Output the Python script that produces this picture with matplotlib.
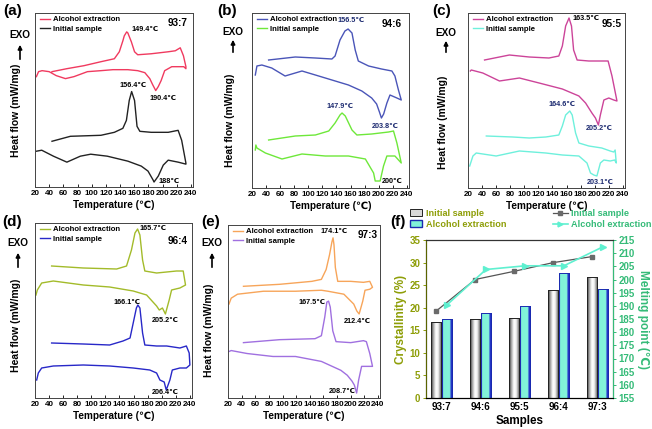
import numpy as np
import matplotlib
matplotlib.use('Agg')
import matplotlib.pyplot as plt
from matplotlib.patches import FancyArrowPatch, Patch
from matplotlib.lines import Line2D
from matplotlib.colors import LinearSegmentedColormap

plt.rcParams['font.family'] = ['Liberation Sans', 'DejaVu Sans']
plt.rcParams['font.weight'] = 'bold'

# ---- DSC curves (heat flow in arbitrary units, curves offset) ----
# (a) 93:7
a_alc_heat_T = [22, 25, 30, 40, 50, 63, 75, 94, 113, 130, 151, 165, 175, 182, 186, 190.4, 194, 198, 203, 213, 222, 230, 233]
a_alc_heat_h = [111, 116, 117, 116, 112, 109, 111, 116, 117, 118, 118, 117, 115, 109, 103, 97, 101, 107, 117, 121, 121, 121, 119]
a_alc_cool_T = [233, 229.5, 225, 218, 208, 184, 165, 160.5, 156, 151, 149.4, 146, 144, 139, 132, 113, 89, 65, 44]
a_alc_cool_h = [121, 132, 140, 137, 136, 134, 133, 136, 146, 155, 156, 152, 147, 136, 129, 126, 122, 119, 116]
a_ini_heat_T = [22, 29.5, 46, 65, 84, 98.6, 122, 151, 170, 179.5, 186.7, 188, 194, 201, 208, 222, 233]
a_ini_heat_h = [36, 37, 31, 25, 31, 33, 31, 26, 21, 16, 7, 5, 11, 22, 27, 25, 23]
a_ini_cool_T = [233, 227, 222, 208, 184, 168, 164, 160.5, 156.4, 153, 149, 144, 132, 113, 70, 44]
a_ini_cool_h = [24, 47, 57, 55, 55, 56, 61, 87, 96, 87, 67, 59, 55, 52, 51, 46]

# (b) 94:6
b_alc_heat_T = [24.7, 27, 34, 48, 67, 91, 110, 133.5, 157, 176, 190, 197, 201, 203.8, 207, 211.6, 216, 225.8, 232]
b_alc_heat_h = [113, 122, 123, 120, 112, 117, 113, 108, 103, 97, 90, 84, 76, 70, 74, 85, 93, 90, 88]
b_alc_cool_T = [232, 228, 223, 218.7, 204, 185.6, 171, 166.6, 162, 156.5, 152, 145, 138, 133.5, 110, 81.5, 43.6]
b_alc_cool_h = [88, 98, 112, 117, 119, 122, 127, 138, 155, 159, 157, 148, 132, 129, 130, 131, 128]
b_ini_heat_T = [24.7, 25.5, 27, 39, 62.6, 91, 124, 157, 181, 192.7, 195, 202, 206.8, 211.6, 223, 232]
b_ini_heat_h = [38, 43, 40, 35, 29, 34, 32, 32, 29, 15, 7, 7, 22, 32, 32, 25]
b_ini_cool_T = [232, 225.8, 221, 214, 190, 169, 162, 152.5, 147.9, 145, 138, 129, 110, 81.5, 43.6]
b_ini_cool_h = [25, 45, 57, 56, 54, 53, 58, 72, 75, 73, 65, 57, 53, 52, 48]

# (c) 95:5
c_alc_heat_T = [23.3, 24.7, 41, 64.7, 93, 121, 154, 177.5, 187, 196, 201, 205.2, 208, 213, 220, 227, 231.6]
c_alc_heat_h = [117, 118, 115, 107, 110, 105, 99, 92, 85, 75, 70, 63, 73, 88, 90, 88, 87]
c_alc_cool_T = [231.6, 224.5, 219, 210, 191.6, 175, 170, 167, 163.5, 158.7, 154, 149, 135, 107, 78.8, 43.5]
c_alc_cool_h = [87, 112, 127, 127, 127, 128, 138, 162, 170, 162, 142, 132, 130, 131, 133, 128]
c_ini_heat_T = [22.4, 27, 31.7, 60, 93, 130.5, 154, 177.5, 189, 194, 198.7, 203.1, 208, 213, 222, 228.3, 230.6]
c_ini_heat_h = [22, 32, 35, 32, 37, 35, 33, 32, 25, 15, 13, 12, 25, 28, 27, 28, 25]
c_ini_cool_T = [230.6, 229, 227, 222, 210, 191.6, 177.5, 172.8, 168, 164.6, 158.7, 154, 149, 130.5, 107, 83.5, 46]
c_ini_cool_h = [25, 38, 36, 37, 40, 42, 45, 55, 73, 77, 73, 62, 53, 51, 50, 51, 52]

# (d) 96:4
d_alc_heat_T = [21.4, 23.3, 29.5, 46, 88.6, 126, 159.5, 178.5, 192.7, 196.5, 201, 205.2, 210.6, 214, 225.8, 233.8]
d_alc_heat_h = [103, 108, 115, 117, 113, 111, 107, 103, 92, 88, 90, 84, 98, 108, 110, 113]
d_alc_cool_T = [233.8, 230.5, 221, 207, 192.7, 176, 172.8, 169, 165.7, 162, 157, 150, 136, 88.6, 43.6]
d_alc_cool_h = [113, 127, 127, 126, 125, 127, 138, 163, 169, 165, 148, 132, 129, 130, 132]
d_ini_heat_T = [22.4, 24.7, 29.5, 46, 88.6, 126, 159.5, 183, 192.7, 197.4, 203.5, 206.4, 211.6, 215, 225.8, 235, 240]
d_ini_heat_h = [18, 25, 30, 32, 33, 32, 30, 28, 25, 18, 16, 8, 18, 28, 30, 30, 33]
d_ini_cool_T = [240, 239, 235, 225.8, 207, 192.7, 176, 172.8, 169, 166.1, 164, 159.5, 155, 145, 126, 88.6, 43.6]
d_ini_cool_h = [33, 45, 52, 50, 52, 52, 53, 65, 90, 93, 90, 75, 60, 57, 53, 54, 55]

# (e) 97:3
e_alc_heat_T = [21.4, 24.7, 34, 72, 119, 157, 166.6, 190, 204.5, 209, 212.4, 217.7, 221, 228, 232]
e_alc_heat_h = [95, 101, 105, 108, 108, 109, 108, 105, 95, 88, 85, 98, 109, 110, 112]
e_alc_cool_T = [232, 228, 218.7, 200, 181, 177.5, 175.5, 174.1, 172.5, 169, 164, 157, 143, 95.7, 42.7]
e_alc_cool_h = [112, 118, 117, 118, 118, 132, 155, 162, 158, 145, 130, 120, 118, 115, 113]
e_ini_heat_T = [21.4, 24.7, 48, 86, 119, 157, 185.6, 195, 202, 205.4, 208.7, 211.6, 216, 223, 232]
e_ini_heat_h = [47, 48, 45, 42, 42, 37, 28, 23, 17, 13, 5, 18, 32, 32, 32]
e_ini_cool_T = [232, 228, 223, 218.7, 200, 178.5, 173.7, 170, 167.5, 165, 162, 157, 147.7, 95.7, 42.7]
e_ini_cool_h = [32, 45, 57, 58, 56, 57, 68, 92, 98, 97, 82, 63, 60, 59, 56]

# ---- (f) crystallinity and melting point ----
samples = ['93:7', '94:6', '95:5', '96:4', '97:3']
cryst_initial = [16.9, 17.6, 17.8, 23.9, 26.7]
cryst_alcohol = [17.4, 18.8, 20.3, 27.8, 24.2]
melt_initial = [188, 200, 203.1, 206.4, 208.7]
melt_alcohol = [190.4, 203.8, 205.2, 205.2, 212.4]

W, H = 652, 429
fig = plt.figure(figsize=(W / 100, H / 100), dpi=100)


def px_axes(l, t, r, b):
    return fig.add_axes([l / W, 1 - b / H, (r - l) / W, (b - t) / H])


NAVY = '#1c2a70'
panels = [
    dict(lab='(a)', lab_xy=(13, 11), box=(35, 13, 193, 187), tag='93:7', tag_xy=(0.965, 0.94),
         c_alc='#f03a5f', c_ini='#222222',
         alc=(a_alc_heat_T, a_alc_heat_h, a_alc_cool_T, a_alc_cool_h),
         ini=(a_ini_heat_T, a_ini_heat_h, a_ini_cool_T, a_ini_cool_h),
         notes=[('149.4℃', 175, 158, 'k'), ('190.4℃', 200, 89, 'k'),
                ('156.4℃', 158, 102, 'k'), ('188℃', 209, 6, 'k')],
         exo=(20, 35, 62, 42, 16, 110)),
    dict(lab='(b)', lab_xy=(227, 11), box=(252, 13, 409, 188), tag='94:6', tag_xy=(0.955, 0.937),
         c_alc='#4a55b8', c_ini='#6ee83a',
         alc=(b_alc_heat_T, b_alc_heat_h, b_alc_cool_T, b_alc_cool_h),
         ini=(b_ini_heat_T, b_ini_heat_h, b_ini_cool_T, b_ini_cool_h),
         notes=[('156.5℃', 161, 167, NAVY), ('203.8℃', 209, 62, NAVY),
                ('147.9℃', 145, 81, NAVY), ('200℃', 219, 7, 'k')],
         exo=(233, 32, 55, 37, 230, 120)),
    dict(lab='(c)', lab_xy=(442, 11), box=(468, 13, 625, 188), tag='95:5', tag_xy=(0.98, 0.937),
         c_alc='#cc4499', c_ini='#6ef0dc',
         alc=(c_alc_heat_T, c_alc_heat_h, c_alc_cool_T, c_alc_cool_h),
         ini=(c_ini_heat_T, c_ini_heat_h, c_ini_cool_T, c_ini_cool_h),
         notes=[('163.5℃', 187, 170, 'k'), ('205.2℃', 206, 60, NAVY),
                ('164.6℃', 154, 83, NAVY), ('203.1℃', 208, 6, NAVY)],
         exo=(446, 33, 55, 38, 443, 122)),
    dict(lab='(d)', lab_xy=(12, 222), box=(35, 223, 192, 398), tag='96:4', tag_xy=(0.975, 0.90),
         c_alc='#a3bb2a', c_ini='#2828c8',
         alc=(d_alc_heat_T, d_alc_heat_h, d_alc_cool_T, d_alc_cool_h),
         ini=(d_ini_heat_T, d_ini_heat_h, d_ini_cool_T, d_ini_cool_h),
         notes=[('165.7℃', 188, 169, 'k'), ('205.2℃', 204.5, 78, 'k'),
                ('166.1℃', 150, 95, 'k'), ('206.4℃', 204.5, 5, 'k')],
         exo=(18, 243, 270, 250, 16, 325)),
    dict(lab='(e)', lab_xy=(211, 222), box=(228, 225, 380, 398), tag='97:3', tag_xy=(0.987, 0.94),
         c_alc='#f7a55a', c_ini='#a070e0',
         alc=(e_alc_heat_T, e_alc_heat_h, e_alc_cool_T, e_alc_cool_h),
         ini=(e_ini_heat_T, e_ini_heat_h, e_ini_cool_T, e_ini_cool_h),
         notes=[('174.1℃', 176, 168, 'k'), ('212.4℃', 209, 77, 'k'),
                ('167.5℃', 143, 97, 'k'), ('208.7℃', 188, 7, 'k')],
         exo=(212, 243, 270, 250, 209, 330)),
]

for p in panels:
    ax = px_axes(*p['box'])
    for key, col, name in (('alc', p['c_alc'], 'Alcohol extraction'), ('ini', p['c_ini'], 'Initial sample')):
        hT, hh, cT, ch = p[key]
        ax.plot(list(hT) + list(cT), list(hh) + list(ch), color=col, lw=1.0, label=name)
    ax.set_xlim(20, 243)
    ax.set_ylim(0, 175)
    ax.set_xticks(np.arange(20, 241, 20))
    ax.set_yticks([])
    ax.tick_params(axis='x', labelsize=5.8, length=2, width=0.6, direction='in', pad=2)
    for t in ax.get_xticklabels():
        t.set_fontweight('bold')
    for s in ax.spines.values():
        s.set_linewidth(0.7)
        s.set_color('#444444')
    ax.set_xlabel('Temperature (℃)', fontsize=7.2, fontweight='bold', labelpad=2)
    ax.legend(loc='upper left', bbox_to_anchor=(0.0, 1.01), frameon=False,
              handlelength=1.35, handletextpad=0.4, borderaxespad=0.2, labelspacing=0.3,
              prop={'weight': 'bold', 'size': 5.6})
    ax.text(p['tag_xy'][0], p['tag_xy'][1], p['tag'], transform=ax.transAxes, ha='right', va='center',
            fontsize=7.2, fontweight='bold')
    for txt, tx, ty, col in p['notes']:
        ax.text(tx, ty, txt, ha='center', va='center', fontsize=5.2, fontweight='bold', color=col)
    fig.text(p['lab_xy'][0] / W, 1 - p['lab_xy'][1] / H, p['lab'], ha='center', va='center',
             fontsize=11, fontweight='bold')
    ex, ey, ay0, ay1, yx, yy = p['exo']
    fig.text(ex / W, 1 - ey / H, 'EXO', ha='center', va='center', fontsize=7.2, fontweight='bold')
    fig.add_artist(FancyArrowPatch((ex / W, 1 - ay0 / H), (ex / W, 1 - ay1 / H), transform=fig.transFigure,
                                   arrowstyle='-|>', mutation_scale=6, lw=1.2, color='k'))
    fig.text(yx / W, 1 - yy / H, 'Heat flow (mW/mg)', rotation=90, ha='center', va='center',
             fontsize=7.5, fontweight='bold')

# ---- panel (f) ----
OLIVE = '#8e9e08'
GREEN = '#35bb78'
axf = px_axes(426, 240, 613, 398)
x = np.arange(len(samples))
bw = 0.27
off = 0.14
bars_i = axf.bar(x - off, cryst_initial, bw, facecolor='none', edgecolor='#222222', lw=0.7, zorder=3)
bars_a = axf.bar(x + off, cryst_alcohol, bw, facecolor='none', edgecolor='#1a2ab0', lw=0.7, zorder=3)

cm_i = LinearSegmentedColormap.from_list('ini', [(0, '#2a2a2a'), (0.2, '#a0a0a0'), (0.45, '#ffffff'),
                                                (0.65, '#f4f4f4'), (0.85, '#9a9a9a'), (1, '#3a3a3a')])
cm_a = LinearSegmentedColormap.from_list('alc', [(0, '#2233cc'), (0.12, '#80f2d8'), (0.72, '#84f4da'),
                                                (0.82, '#2a3ad0'), (1, '#1525a8')])
grad = np.linspace(0, 1, 64).reshape(1, -1)
for bars, cm in ((bars_i, cm_i), (bars_a, cm_a)):
    for r in bars:
        x0, y0, w, h = r.get_x(), r.get_y(), r.get_width(), r.get_height()
        im = axf.imshow(grad, extent=[x0, x0 + w, y0, y0 + h], aspect='auto', cmap=cm, zorder=2)
        im.set_clip_path(r)

axf.set_xlim(-0.4, 4.4)
axf.set_ylim(0, 35)
axf.set_xticks(x)
axf.set_xticklabels(samples, fontsize=7, fontweight='bold')
axf.set_yticks(np.arange(0, 36, 5))
axf.tick_params(axis='y', colors=OLIVE, labelsize=7, length=2.5, width=0.7, pad=1.5)
axf.tick_params(axis='x', length=0, pad=3)
for t in axf.get_yticklabels():
    t.set_fontweight('bold')
axf.set_xlabel('Samples', fontsize=8.4, fontweight='bold', labelpad=2)
axf.set_ylabel('Crystallinity (%)', fontsize=8.5, fontweight='bold', color=OLIVE, labelpad=2)

ax2 = axf.twinx()
ax2.plot(x - off, melt_initial, color='#555555', lw=0.9, marker='s', ms=3.5, mfc='#6a6a6a', mec='#6a6a6a')
ax2.plot(x + off, melt_alcohol, color='#5ff0d0', lw=1.2, marker='>', ms=4, mfc='#5ff0d0', mec='#5ff0d0')
ax2.set_ylim(155, 215)
ax2.set_yticks(np.arange(155, 216, 5))
ax2.tick_params(axis='y', colors=GREEN, labelsize=7, length=2.5, width=0.7, pad=1.5)
for t in ax2.get_yticklabels():
    t.set_fontweight('bold')
ax2.set_ylabel('Melting point (℃)', fontsize=8.5, fontweight='bold', color=GREEN, rotation=270, labelpad=10)
for s in ('left', 'right', 'top', 'bottom'):
    axf.spines[s].set_linewidth(0.8)
    ax2.spines[s].set_linewidth(0.8)
ax2.spines['right'].set_color(GREEN)
ax2.spines['left'].set_color('#5a6400')
ax2.spines['top'].set_color('#333333')

fig.text(398 / W, 1 - 222 / H, '(f)', ha='center', va='center', fontsize=11, fontweight='bold')
h_bar = [Patch(facecolor='#d8d8d8', edgecolor='#222222', lw=0.7),
         Patch(facecolor='#80f2d8', edgecolor='#1a2ab0', lw=1.0)]
lg1 = fig.legend(h_bar, ['Initial sample', 'Alcohol extraction'], loc='upper left',
                 bbox_to_anchor=(410 / W, 1 - 209 / H), frameon=False, handlelength=1.3, handleheight=0.8,
                 handletextpad=0.4, labelspacing=0.2, borderaxespad=0, borderpad=0,
                 prop={'weight': 'bold', 'size': 6.6})
for t in lg1.get_texts():
    t.set_color(OLIVE)
h_line = [Line2D([], [], color='#555555', lw=0.9, marker='s', ms=3, mfc='#6a6a6a', mec='#6a6a6a'),
          Line2D([], [], color='#5ff0d0', lw=1.2, marker='>', ms=3.5, mfc='#5ff0d0', mec='#5ff0d0')]
lg2 = fig.legend(h_line, ['Initial sample', 'Alcohol extraction'], loc='upper left',
                 bbox_to_anchor=(553 / W, 1 - 209 / H), frameon=False, handlelength=1.6,
                 handletextpad=0.35, labelspacing=0.2, borderaxespad=0, borderpad=0,
                 prop={'weight': 'bold', 'size': 6.6})
for t in lg2.get_texts():
    t.set_color(GREEN)

fig.savefig('out.png', dpi=100)
